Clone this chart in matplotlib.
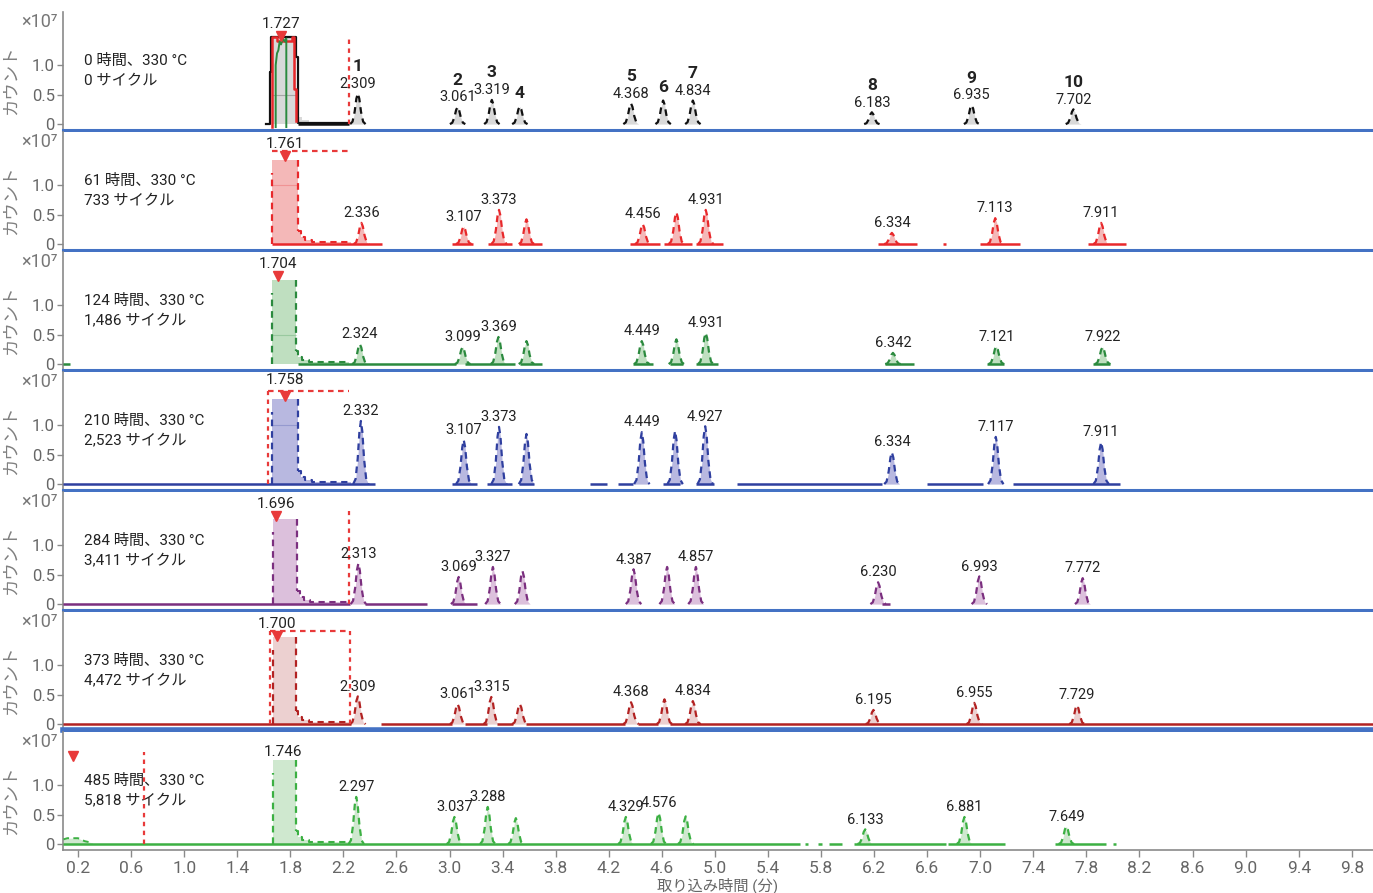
import matplotlib.pyplot as plt
import numpy as np

plt.rcParams['font.family'] = ['Roboto', 'Noto Sans CJK JP', 'DejaVu Sans']

# aging runs (one panel each)
hours = [0, 61, 124, 210, 284, 373, 485]
cycles = ["0", "733", "1,486", "2,523", "3,411", "4,472", "5,818"]
line_colors = ["#111111", "#e8282b", "#2b8a3e", "#2f3f9f", "#7b2f7f", "#b22222", "#3cb043"]
fill_colors = ["#d9d9d9", "#f4b8b8", "#bfdfc0", "#b8b8e0", "#dcc0dc", "#ecd0d0", "#cfe8cf"]

# solvent front
solvent_rt = [1.727, 1.761, 1.704, 1.758, 1.696, 1.700, 1.746]
solvent_start = [1.66, 1.66, 1.66, 1.66, 1.67, 1.67, 1.67]
solvent_end = [1.84, 1.86, 1.84, 1.86, 1.85, 1.84, 1.84]
solvent_top = [1.47, 1.42, 1.42, 1.44, 1.44, 1.47, 1.42]
solvent_mid = [0.5, 1.0, 0.5, 1.0, None, None, None]
marker_rt = [1.727, 1.761, 1.704, 1.758, 1.696, 1.700, 0.16]
marker_y = 1.5

# tail of the solvent front (offset from block end, level)
tail_dt = [0.0, 0.02, 0.05, 0.10, 0.20, 0.40]
tail_y = [0.22, 0.12, 0.07, 0.04, 0.03, 0.03]

# peaks 1-10 for each run (retention time in min, counts x1e7)
peak_rt = [
    [2.309, 3.061, 3.319, 3.53, 4.368, 4.61, 4.834, 6.183, 6.935, 7.702],
    [2.336, 3.107, 3.373, 3.58, 4.456, 4.71, 4.931, 6.334, 7.113, 7.911],
    [2.324, 3.099, 3.369, 3.58, 4.449, 4.71, 4.931, 6.342, 7.121, 7.922],
    [2.332, 3.107, 3.373, 3.58, 4.449, 4.70, 4.927, 6.334, 7.117, 7.911],
    [2.313, 3.069, 3.327, 3.55, 4.387, 4.64, 4.857, 6.230, 6.993, 7.772],
    [2.309, 3.061, 3.315, 3.53, 4.368, 4.62, 4.834, 6.195, 6.955, 7.729],
    [2.297, 3.037, 3.288, 3.50, 4.329, 4.576, 4.78, 6.133, 6.881, 7.649],
]
peak_height = [
    [0.52, 0.29, 0.41, 0.30, 0.35, 0.40, 0.40, 0.20, 0.32, 0.25],
    [0.36, 0.30, 0.58, 0.42, 0.34, 0.54, 0.58, 0.19, 0.44, 0.36],
    [0.34, 0.29, 0.46, 0.39, 0.39, 0.42, 0.53, 0.19, 0.30, 0.29],
    [1.07, 0.75, 0.97, 0.85, 0.88, 0.90, 0.98, 0.54, 0.80, 0.71],
    [0.69, 0.46, 0.63, 0.56, 0.59, 0.63, 0.63, 0.37, 0.47, 0.44],
    [0.47, 0.34, 0.46, 0.34, 0.37, 0.42, 0.39, 0.24, 0.36, 0.32],
    [0.80, 0.46, 0.63, 0.44, 0.46, 0.53, 0.47, 0.25, 0.46, 0.30],
]
labelled = [
    [0, 1, 2, 4, 6, 7, 8, 9],
    [0, 1, 2, 4, 6, 7, 8, 9],
    [0, 1, 2, 4, 6, 7, 8, 9],
    [0, 1, 2, 4, 6, 7, 8, 9],
    [0, 1, 2, 4, 6, 7, 8, 9],
    [0, 1, 2, 4, 6, 7, 8, 9],
    [0, 1, 2, 4, 5, 7, 8, 9],
]
compound_no = ["1", "2", "3", "4", "5", "6", "7", "8", "9", "10"]

# stretches where the trace sits on the baseline
baselines = [
    [(1.86, 2.24)],
    [(1.66, 2.49), (3.02, 3.18), (3.29, 3.47), (3.52, 3.70), (4.36, 4.59), (4.62, 4.83),
     (4.86, 5.06), (6.23, 6.52), (6.72, 6.74), (7.00, 7.30), (7.81, 8.10)],
    [(0.09, 0.14), (1.86, 3.05), (3.12, 3.49), (3.53, 3.70), (4.38, 4.53), (4.66, 4.76),
     (4.86, 5.02), (6.28, 6.50), (7.05, 7.18), (7.85, 7.98)],
    [(0.09, 2.44), (3.02, 3.21), (3.28, 3.47), (3.52, 3.64), (4.06, 4.19), (4.27, 4.38),
     (4.61, 4.74), (4.86, 4.99), (5.17, 6.26), (6.60, 7.02), (7.25, 8.05)],
    [(0.09, 2.25), (2.36, 2.83), (3.02, 3.21), (6.26, 6.32)],
    [(0.09, 2.26), (2.48, 3.02), (3.12, 3.28), (3.36, 3.48), (3.58, 4.32), (4.42, 4.57),
     (4.66, 9.96)],
    [(0.09, 5.64), (5.68, 5.70), (5.78, 5.81), (5.86, 5.96), (6.05, 6.74), (6.76, 7.19),
     (7.56, 7.95), (8.00, 8.02)],
]

# overlaid traces inside the first solvent front
front0_black_t = [1.62, 1.645, 1.645, 1.655, 1.655, 1.845, 1.845, 1.86, 1.86, 2.24]
front0_black_y = [0.0, 0.0, 0.88, 0.88, 1.47, 1.47, 1.14, 1.14, 0.02, 0.02]
front0_red_t = [1.665, 1.665, 1.70, 1.70, 1.81, 1.81, 1.83, 1.83, 1.845, 1.845]
front0_red_y = [-0.05, 1.47, 1.47, 1.40, 1.40, 1.47, 1.47, 0.6, 0.6, 0.05]
front0_green_t = [1.69, 1.69, 1.70, 1.71, 1.72, 1.73, 1.745, 1.76, 1.77, 1.77]
front0_green_y = [-0.05, 1.0, 1.2, 1.25, 1.4, 1.35, 1.45, 1.40, 1.45, -0.05]

# small hump at the start of the last run
hump_t = [0.09, 0.12, 0.20, 0.25, 0.31]
hump_y = [0.08, 0.10, 0.10, 0.05, 0.02]

# red integration guides: (x, y0, y1) verticals and (y, x0, x1) horizontals
guide_v = {0: [(2.24, 0.0, 1.50)], 3: [(1.635, 0.0, 1.58)], 4: [(2.24, 0.0, 1.58)],
           5: [(1.648, 0.0, 1.58), (2.25, 0.0, 1.58)], 6: [(0.70, 0.0, 1.56)]}
guide_h = {1: [(1.58, 1.66, 2.25)], 3: [(1.58, 1.635, 2.24)], 5: [(1.58, 1.648, 2.25)]}

xtick_vals = [0.2, 0.6, 1.0, 1.4, 1.8, 2.2, 2.6, 3.0, 3.4, 3.8, 4.2, 4.6, 5.0,
              5.4, 5.8, 6.2, 6.6, 7.0, 7.4, 7.8, 8.2, 8.6, 9.0, 9.4, 9.8]
xtick_labels = [f"{v:.1f}" for v in xtick_vals]

# generic peak profile (offset in min, fraction of apex)
shape_dt = np.array([-0.058, -0.04, -0.024, -0.011, 0.0, 0.011, 0.024, 0.04, 0.058])
shape_fr = np.array([0.0, 0.08, 0.40, 0.83, 1.0, 0.83, 0.40, 0.08, 0.0])

W, H = 1373, 893
fig = plt.figure(figsize=(W / 100, H / 100), dpi=100)
blue = "#4472c4"
red = "#e83a3a"
grey = "#8a8a8a"
dash = (0, (3, 2.2))

for i in range(7):
    top_px = 12 + 120 * i
    ax = fig.add_axes([63 / W, 1 - (top_px + 118) / H, 1 - 63 / W, 118 / H])
    ax.set_xlim(0.087, 9.96)
    ax.set_ylim(-0.1, 1.9)
    lc, fc = line_colors[i], fill_colors[i]

    for s, e in baselines[i]:
        ax.plot([s, e], [0, 0], color=lc, lw=1.8, solid_capstyle="butt", zorder=3)

    # solvent front block with tail
    s0, s1, top = solvent_start[i], solvent_end[i], solvent_top[i]
    tt = s1 + np.array(tail_dt)
    ax.fill_between([s0, s1], [top, top], 0, color=fc, lw=0, zorder=2)
    ax.fill_between(tt, tail_y, 0, step="post", color=fc, lw=0, zorder=2)
    if i == 0:
        ax.plot(front0_black_t, front0_black_y, color="#111111", lw=1.6, zorder=4)
        ax.plot(front0_red_t, front0_red_y, color="#e8282b", lw=1.8, zorder=5)
        ax.plot(front0_green_t, front0_green_y, color="#2b8a3e", lw=1.4, zorder=6)
    else:
        ax.plot([s0, s0], [0, top * 0.85], color=lc, lw=1.6, ls=dash, zorder=4)
        ax.plot([s1, s1], [top, tail_y[0]], color=lc, lw=1.6, ls=dash, zorder=4)
        ax.step(tt, tail_y, where="post", color=lc, lw=1.5, ls=dash, zorder=4)
    if solvent_mid[i] is not None:
        ax.plot([s0, s1], [solvent_mid[i]] * 2, color=lc, lw=0.8, alpha=0.25, zorder=3)

    if i == 6:
        ax.fill_between(hump_t, hump_y, 0, color=fc, lw=0, zorder=2)
        ax.plot(hump_t, hump_y, color=lc, lw=1.4, ls=dash, zorder=3)

    # solvent label and apex marker
    ax.plot(marker_rt[i], marker_y, marker="v", ms=7, color=red, zorder=7, clip_on=False)
    if i == 6:
        lab_y = top + 0.03
    elif i == 3:
        lab_y = marker_y + 0.14
    else:
        lab_y = marker_y + 0.07
    ax.text(solvent_rt[i], lab_y, f"{solvent_rt[i]:.3f}", ha="center", va="bottom",
            fontsize=11, color="#222222", zorder=8, clip_on=False)

    for x, y0, y1 in guide_v.get(i, []):
        ax.plot([x, x], [y0, y1], color=red, lw=1.6, ls=(0, (2, 2)), zorder=6)
    for y, x0, x1 in guide_h.get(i, []):
        ax.plot([x0, x1], [y, y], color=red, lw=1.6, ls=(0, (2.5, 2)), zorder=6)

    # analyte peaks
    for k, (rt, h) in enumerate(zip(peak_rt[i], peak_height[i])):
        px = rt + shape_dt
        py = h * shape_fr
        ax.fill_between(px, py, 0, color=fc, lw=0, zorder=2)
        ax.plot(px, py, color=lc, lw=1.6, ls=dash, zorder=4)
        has_lab = k in labelled[i]
        if has_lab:
            ax.annotate(f"{rt:.3f}", (rt, h), xytext=(0, 2), textcoords="offset points",
                        ha="center", va="bottom", fontsize=10.5, color="#222222", zorder=8)
        if i == 0:
            ax.annotate(compound_no[k], (rt, h), xytext=(0, 14 if has_lab else 4),
                        textcoords="offset points", ha="center", va="bottom",
                        fontsize=12.5, fontweight="bold", color="#222222", zorder=8)

    # run description
    ax.text(0.016, 0.585, f"{hours[i]} 時間、330 °C", transform=ax.transAxes,
            va="center", ha="left", fontsize=11, color="#222222")
    ax.text(0.016, 0.41, f"{cycles[i]} サイクル", transform=ax.transAxes,
            va="center", ha="left", fontsize=11, color="#222222")
    ax.text(-0.004, 0.915, "×10⁷", transform=ax.transAxes, ha="right", va="center",
            fontsize=13, color="#777777")

    ax.set_yticks([0, 0.5, 1.0])
    ax.set_yticklabels(["0", "0.5", "1.0"])
    ax.tick_params(axis="y", colors=grey, labelcolor="#666666", labelsize=12,
                   length=4, width=1, pad=2)
    ax.set_ylabel("カウント", color="#808080", fontsize=12.5)
    ax.yaxis.set_label_coords(-0.034, 0.42)

    for side in ("top", "right"):
        ax.spines[side].set_visible(False)
    ax.spines["left"].set_color(grey)
    ax.spines["left"].set_linewidth(1.2)
    if i < 6:
        ax.spines["bottom"].set_color(blue)
        ax.spines["bottom"].set_linewidth(4 if i == 5 else 2.2)
        ax.tick_params(axis="x", bottom=False, labelbottom=False)
    else:
        ax.spines["bottom"].set_color(grey)
        ax.spines["bottom"].set_linewidth(1.2)
        ax.set_xticks(xtick_vals)
        ax.set_xticklabels(xtick_labels)
        ax.tick_params(axis="x", colors=grey, labelcolor="#666666", labelsize=12.5,
                       length=5, width=1, pad=3)
        ax.set_xlabel("取り込み時間 (分)", color="#666666", fontsize=11, labelpad=1)

fig.savefig("out.png", dpi=100)
